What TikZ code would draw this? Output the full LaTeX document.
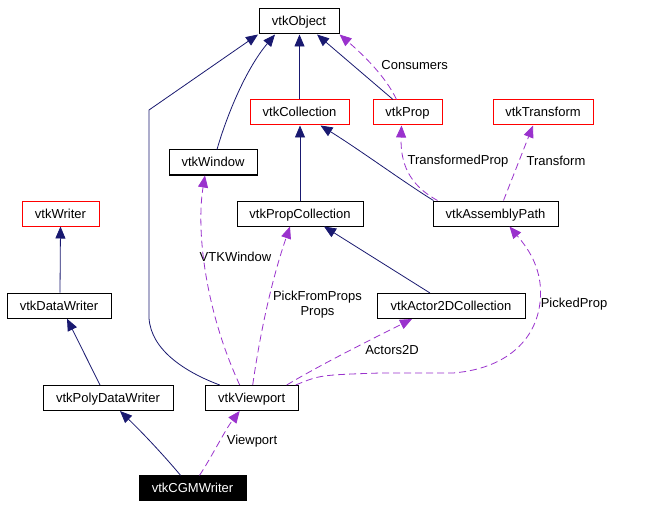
\documentclass[tikz,border=0pt]{standalone}
\usepackage{fontspec}
\setmainfont{Liberation Sans}
\usetikzlibrary{arrows.meta}
\definecolor{navy}{HTML}{191970}
\definecolor{purp}{HTML}{9A32CD}
\newcommand{\lbl}{\fontsize{13}{15}\selectfont}
\tikzset{
  box/.style={draw=black, line width=1pt, minimum height=25pt, inner sep=0pt, text height=9.5pt, text depth=0.5pt, font=\lbl},
  redbox/.style={box, draw=red},
  blackbox/.style={box, fill=black, text=white},
  inh/.style={draw=navy, line width=0.8pt, -{Triangle[length=12pt,width=10pt]}},
  use/.style={draw=purp, line width=0.8pt, dash pattern=on 7pt off 4pt, -{Triangle[length=12pt,width=10pt,fill=purp]}},
  lab/.style={font=\lbl, inner sep=0pt, align=center}
}
\begin{document}
\begin{tikzpicture}[x=1pt,y=-1pt]
\useasboundingbox[fill=white] (0,0) rectangle (648,508);
% nodes
\node[box, minimum width=80pt] (obj) at (299,21.5) {vtkObject};
\node[redbox, minimum width=99pt] (coll) at (299.5,112.5) {vtkCollection};
\node[redbox, minimum width=69pt] (prop) at (407.5,112.5) {vtkProp};
\node[redbox, minimum width=100pt] (trans) at (543,112.5) {vtkTransform};
\node[box, minimum width=88pt] (win) at (213,162.5) {vtkWindow};
\node[redbox, minimum width=77pt] (writer) at (60.5,213.5) {vtkWriter};
\node[box, minimum width=126pt] (pcoll) at (300,213.5) {vtkPropCollection};
\node[box, minimum width=125pt] (apath) at (495.5,213.5) {vtkAssemblyPath};
\node[box, minimum width=104pt] (dwriter) at (59,305.7) {vtkDataWriter};
\node[box, minimum width=148pt] (a2d) at (451,306) {vtkActor2DCollection};
\node[box, minimum width=130pt] (pdwriter) at (108,398) {vtkPolyDataWriter};
\node[box, minimum width=93pt] (view) at (251.7,398) {vtkViewport};
\node[blackbox, minimum width=107pt] (cgm) at (192.5,488.3) {vtkCGMWriter};
% labels
\node[lab] (lcons) at (414.7,65) {Consumers};
\node[lab] (ltprop) at (458,161) {TransformedProp};
\node[lab] (ltrans) at (556,161) {Transform};
\node[lab] (lwin) at (235.5,257) {VTKWindow};
\node[lab] (lpick) at (317.5,304.5) {PickFromProps\\Props};
\node[lab] (la2d) at (392,350) {Actors2D};
\node[lab] (lpicked) at (574,304) {PickedProp};
\node[lab] (lview) at (252,441.5) {Viewport};
% inheritance edges
\draw[inh] (coll.north) -- (coll.north |- obj.south);
\draw[inh] ([xshift=-14.5]prop.north) -- ([xshift=18]obj.south);
\draw[inh] ([xshift=4]win.north) .. controls (226,118) and (245,70) .. ([xshift=-24]obj.south);
\draw[inh] ([xshift=-32]view.north) .. controls (185,372) and (151,350) .. (149,318) -- (149,110) -- ([xshift=-41]obj.south);
\draw[inh] ([xshift=-62]apath.north) .. controls (405,183) and (360,150) .. ([xshift=21]coll.south);
\draw[inh] (pcoll.north) -- (pcoll.north |- coll.south);
\draw[inh] ([xshift=1]dwriter.north) -- (writer.south);
\draw[inh] ([xshift=-8]pdwriter.north) -- ([xshift=8]dwriter.south);
\draw[inh] ([xshift=-21]a2d.north) -- ([xshift=24]pcoll.south);
\draw[inh] ([xshift=-12]cgm.north) .. controls (172,465) and (150,440) .. ([xshift=12]pdwriter.south);
% usage edges
\draw[use] ([xshift=-11]prop.north) .. controls (385,75) and (360,52) .. (obj.south east);
\draw[use] ([xshift=-58]apath.north) .. controls (415,188) and (400,170) .. ([xshift=-6]prop.south);
\draw[use] ([xshift=8]apath.north) -- ([xshift=-10]trans.south);
\draw[use] ([xshift=-12]view.north) .. controls (205,310) and (196,230) .. ([xshift=-8]win.south);
\draw[use] ([xshift=1]view.north) .. controls (262,320) and (275,270) .. ([xshift=-10]pcoll.south);
\draw[use] ([xshift=35]view.north) .. controls (320,365) and (370,340) .. ([xshift=-39]a2d.south);
\draw[use] ([xshift=44]view.north) .. controls (320,375) .. (380,373) -- (453,373) .. controls (515,368) and (545,330) .. (540,283) .. controls (537,260) and (525,245) .. ([xshift=14]apath.south);
\draw[use] ([xshift=7]cgm.north) .. controls (210,460) and (225,430) .. ([xshift=-12]view.south);
\end{tikzpicture}
\end{document}
